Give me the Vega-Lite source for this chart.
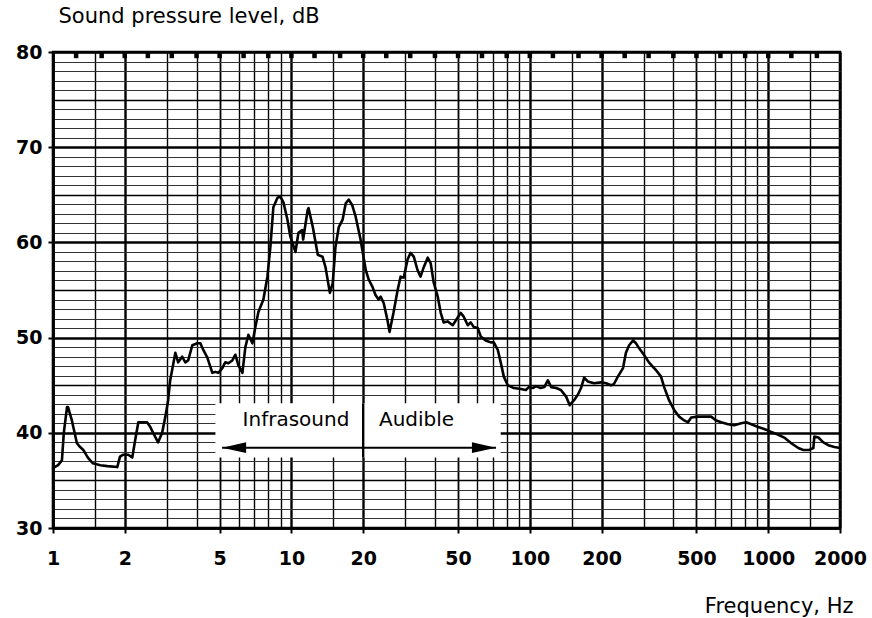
{
  "$schema": "https://vega.github.io/schema/vega-lite/v6.json",
  "width": 787,
  "height": 476,
  "autosize": "none",
  "padding": {"left": 53, "top": 52, "right": 32, "bottom": 90},
  "background": "white",
  "config": {
    "view": {"stroke": "black", "strokeWidth": 2.6},
    "font": "DejaVu Sans"
  },
  "datasets": {
    "spl": [
      {"f": 1.0, "dB": 36.3}, {"f": 1.05, "dB": 36.6}, {"f": 1.09, "dB": 37.1}, {"f": 1.11, "dB": 40.0},
      {"f": 1.145, "dB": 42.7}, {"f": 1.156, "dB": 42.7}, {"f": 1.2, "dB": 41.3}, {"f": 1.26, "dB": 38.9},
      {"f": 1.3, "dB": 38.5}, {"f": 1.34, "dB": 38.2}, {"f": 1.4, "dB": 37.4}, {"f": 1.47, "dB": 36.8},
      {"f": 1.58, "dB": 36.6}, {"f": 1.69, "dB": 36.5}, {"f": 1.86, "dB": 36.4}, {"f": 1.91, "dB": 37.5},
      {"f": 1.97, "dB": 37.7}, {"f": 2.07, "dB": 37.7}, {"f": 2.15, "dB": 37.4}, {"f": 2.21, "dB": 39.2},
      {"f": 2.28, "dB": 41.1}, {"f": 2.37, "dB": 41.1}, {"f": 2.48, "dB": 41.1}, {"f": 2.56, "dB": 40.6},
      {"f": 2.63, "dB": 40.0}, {"f": 2.76, "dB": 39.0}, {"f": 2.87, "dB": 40.0}, {"f": 2.96, "dB": 41.7},
      {"f": 3.04, "dB": 43.4}, {"f": 3.1, "dB": 45.5}, {"f": 3.16, "dB": 46.6}, {"f": 3.26, "dB": 48.4},
      {"f": 3.35, "dB": 47.4}, {"f": 3.48, "dB": 48.0}, {"f": 3.59, "dB": 47.4}, {"f": 3.69, "dB": 47.6},
      {"f": 3.84, "dB": 49.2}, {"f": 4.03, "dB": 49.4}, {"f": 4.15, "dB": 49.4}, {"f": 4.27, "dB": 48.7},
      {"f": 4.44, "dB": 47.9}, {"f": 4.66, "dB": 46.3}, {"f": 4.79, "dB": 46.4}, {"f": 4.94, "dB": 46.3},
      {"f": 5.13, "dB": 46.8}, {"f": 5.28, "dB": 47.4}, {"f": 5.44, "dB": 47.3}, {"f": 5.65, "dB": 47.6},
      {"f": 5.82, "dB": 48.2}, {"f": 5.99, "dB": 47.1}, {"f": 6.23, "dB": 46.3}, {"f": 6.41, "dB": 49.0},
      {"f": 6.6, "dB": 50.3}, {"f": 6.86, "dB": 49.4}, {"f": 7.06, "dB": 51.1}, {"f": 7.27, "dB": 52.7},
      {"f": 7.63, "dB": 54.0}, {"f": 7.93, "dB": 56.4}, {"f": 8.16, "dB": 59.5}, {"f": 8.4, "dB": 63.7},
      {"f": 8.74, "dB": 64.7}, {"f": 8.99, "dB": 64.8}, {"f": 9.26, "dB": 64.2}, {"f": 9.62, "dB": 62.4},
      {"f": 9.9, "dB": 60.6}, {"f": 10.4, "dB": 59.0}, {"f": 10.7, "dB": 61.0}, {"f": 11.1, "dB": 61.3},
      {"f": 11.2, "dB": 60.3}, {"f": 11.7, "dB": 63.4}, {"f": 11.8, "dB": 63.6}, {"f": 12.3, "dB": 61.6},
      {"f": 12.9, "dB": 58.7}, {"f": 13.5, "dB": 58.5}, {"f": 13.9, "dB": 57.4}, {"f": 14.5, "dB": 54.7},
      {"f": 14.9, "dB": 55.7}, {"f": 15.3, "dB": 59.5}, {"f": 15.8, "dB": 61.6}, {"f": 16.4, "dB": 62.4},
      {"f": 16.9, "dB": 64.1}, {"f": 17.4, "dB": 64.5}, {"f": 18.0, "dB": 63.9}, {"f": 18.6, "dB": 62.7},
      {"f": 19.5, "dB": 60.3}, {"f": 20.5, "dB": 57.1}, {"f": 21.1, "dB": 56.1}, {"f": 21.9, "dB": 55.3},
      {"f": 22.5, "dB": 54.5}, {"f": 23.2, "dB": 54.0}, {"f": 23.7, "dB": 54.3}, {"f": 24.4, "dB": 53.6},
      {"f": 25.3, "dB": 51.8}, {"f": 25.8, "dB": 50.6}, {"f": 26.8, "dB": 52.6}, {"f": 27.9, "dB": 55.0},
      {"f": 28.7, "dB": 56.4}, {"f": 29.6, "dB": 56.3}, {"f": 30.7, "dB": 58.2}, {"f": 31.6, "dB": 58.9},
      {"f": 32.6, "dB": 58.5}, {"f": 33.8, "dB": 57.1}, {"f": 34.8, "dB": 56.4}, {"f": 35.9, "dB": 57.4},
      {"f": 37.3, "dB": 58.4}, {"f": 38.4, "dB": 57.8}, {"f": 39.5, "dB": 55.8}, {"f": 41.1, "dB": 54.3},
      {"f": 42.3, "dB": 52.6}, {"f": 43.5, "dB": 51.6}, {"f": 45.2, "dB": 51.7}, {"f": 47.5, "dB": 51.3},
      {"f": 48.9, "dB": 51.8}, {"f": 51.3, "dB": 52.6}, {"f": 52.8, "dB": 52.2}, {"f": 54.9, "dB": 51.3},
      {"f": 56.5, "dB": 51.6}, {"f": 58.2, "dB": 51.1}, {"f": 60.5, "dB": 51.0}, {"f": 62.3, "dB": 50.1},
      {"f": 65.3, "dB": 49.7}, {"f": 68.6, "dB": 49.5}, {"f": 70.6, "dB": 49.5}, {"f": 73.4, "dB": 48.7},
      {"f": 75.5, "dB": 47.4}, {"f": 77.8, "dB": 45.9}, {"f": 80.8, "dB": 45.0}, {"f": 85.7, "dB": 44.7},
      {"f": 91.7, "dB": 44.6}, {"f": 96.2, "dB": 44.5}, {"f": 99.0, "dB": 44.8}, {"f": 103, "dB": 44.7},
      {"f": 106, "dB": 44.9}, {"f": 111, "dB": 44.7}, {"f": 115, "dB": 44.8}, {"f": 119, "dB": 45.5},
      {"f": 123, "dB": 44.8}, {"f": 129, "dB": 44.7}, {"f": 135, "dB": 44.5}, {"f": 142, "dB": 43.8},
      {"f": 147, "dB": 42.9}, {"f": 153, "dB": 43.4}, {"f": 159, "dB": 44.0}, {"f": 164, "dB": 44.7},
      {"f": 169, "dB": 45.8}, {"f": 175, "dB": 45.4}, {"f": 186, "dB": 45.2}, {"f": 199, "dB": 45.3},
      {"f": 209, "dB": 45.2}, {"f": 219, "dB": 45.0}, {"f": 225, "dB": 45.1}, {"f": 234, "dB": 45.9},
      {"f": 246, "dB": 46.8}, {"f": 253, "dB": 48.4}, {"f": 261, "dB": 49.2}, {"f": 271, "dB": 49.7},
      {"f": 279, "dB": 49.4}, {"f": 287, "dB": 48.9}, {"f": 301, "dB": 48.2}, {"f": 316, "dB": 47.4},
      {"f": 329, "dB": 46.9}, {"f": 338, "dB": 46.6}, {"f": 355, "dB": 45.9}, {"f": 366, "dB": 44.8},
      {"f": 384, "dB": 43.4}, {"f": 403, "dB": 42.4}, {"f": 423, "dB": 41.7}, {"f": 444, "dB": 41.3},
      {"f": 461, "dB": 41.1}, {"f": 475, "dB": 41.6}, {"f": 508, "dB": 41.7}, {"f": 538, "dB": 41.7},
      {"f": 576, "dB": 41.7}, {"f": 605, "dB": 41.3}, {"f": 635, "dB": 41.1}, {"f": 679, "dB": 40.9},
      {"f": 720, "dB": 40.8}, {"f": 770, "dB": 41.0}, {"f": 808, "dB": 41.1}, {"f": 849, "dB": 40.9},
      {"f": 908, "dB": 40.6}, {"f": 962, "dB": 40.4}, {"f": 1029, "dB": 40.1}, {"f": 1102, "dB": 39.8},
      {"f": 1167, "dB": 39.5}, {"f": 1249, "dB": 38.9}, {"f": 1337, "dB": 38.4}, {"f": 1403, "dB": 38.2},
      {"f": 1487, "dB": 38.2}, {"f": 1546, "dB": 38.4}, {"f": 1561, "dB": 39.6}, {"f": 1623, "dB": 39.5},
      {"f": 1703, "dB": 39.0}, {"f": 1787, "dB": 38.7}, {"f": 1894, "dB": 38.5}, {"f": 2000, "dB": 38.4}
    ],
    "thirdOctave": [
      {"f": 1.25}, {"f": 1.6}, {"f": 2}, {"f": 2.5}, {"f": 3.15}, {"f": 4}, {"f": 5}, {"f": 6.3},
      {"f": 8}, {"f": 10}, {"f": 12.5}, {"f": 16}, {"f": 20}, {"f": 25}, {"f": 31.5}, {"f": 40},
      {"f": 50}, {"f": 63}, {"f": 80}, {"f": 100}, {"f": 125}, {"f": 160}, {"f": 200}, {"f": 250},
      {"f": 315}, {"f": 400}, {"f": 500}, {"f": 630}, {"f": 800}, {"f": 1000}, {"f": 1250}, {"f": 1600}
    ],
    "box": [{"f1": 4.8, "f2": 75.5, "lo": 37.4, "hi": 43.1, "fmid": 20}],
    "arrow": [{"f1": 5.12, "f2": 72.1, "dB": 38.44}],
    "heads": [{"f": 5.12, "dB": 38.44, "dir": "left"}, {"f": 72.1, "dB": 38.44, "dir": "right"}],
    "labels": [{"label": "Infrasound", "f": 10.45, "dB": 41.3}, {"label": "Audible", "f": 33.5, "dB": 41.3}]
  },
  "layer": [
    {
      "data": {"name": "box"},
      "mark": {"type": "rect", "fill": "white"},
      "encoding": {
        "x": {
          "field": "f1", "type": "quantitative",
          "scale": {"type": "log", "domain": [1, 2000], "nice": false},
          "axis": {
            "values": [1, 1.5, 2, 3, 4, 5, 6, 7, 8, 9, 10, 15, 20, 30, 40, 50, 60, 70, 80, 90, 100, 150, 200, 300, 400, 500, 600, 700, 800, 900, 1000, 1500, 2000],
            "tickCount": 500,
            "labelExpr": "indexof([1,2,5,10,20,50,100,200,500,1000,2000], datum.value) >= 0 ? '' + datum.value : ''",
            "labelFont": "DejaVu Sans", "labelFontSize": 19, "labelFontWeight": "bold", "labelColor": "black",
            "labelPadding": 16, "labelOverlap": false, "labelFlush": false, "labelBound": false,
            "tickSize": 5, "tickWidth": 2, "tickColor": "black",
            "tickOpacity": {"condition": {"test": "indexof([1,2,5,10,20,50,100,200,500,1000,2000], datum.value) >= 0", "value": 1}, "value": 0},
            "domain": true, "domainColor": "black", "domainWidth": 2.6,
            "grid": true, "gridColor": "black", "gridOpacity": 1,
            "gridWidth": {"condition": [
              {"test": "indexof([1,2,10,20,100,200,1000,2000], datum.value) >= 0", "value": 2.4},
              {"test": "indexof([5,50,500], datum.value) >= 0", "value": 1.8}
            ], "value": 1.4},
            "title": "Frequency, Hz",
            "titleFont": "DejaVu Sans", "titleFontSize": 21, "titleFontWeight": "normal", "titleColor": "black",
            "titleAlign": "right", "titleBaseline": "alphabetic", "titleX": 800, "titleY": 84
          }
        },
        "x2": {"field": "f2"},
        "y": {
          "field": "lo", "type": "quantitative",
          "scale": {"domain": [30, 80], "nice": false, "zero": false},
          "axis": {
            "values": [30, 31, 32, 33, 34, 35, 36, 37, 38, 39, 40, 41, 42, 43, 44, 45, 46, 47, 48, 49, 50, 51, 52, 53, 54, 55, 56, 57, 58, 59, 60, 61, 62, 63, 64, 65, 66, 67, 68, 69, 70, 71, 72, 73, 74, 75, 76, 77, 78, 79, 80],
            "tickCount": 500,
            "labelExpr": "datum.value % 10 === 0 ? '' + datum.value : ''",
            "labelFont": "DejaVu Sans", "labelFontSize": 19, "labelFontWeight": "bold", "labelColor": "black",
            "labelPadding": 6, "labelOverlap": false, "labelFlush": false, "labelBound": false,
            "tickSize": 5, "tickWidth": 2, "tickColor": "black",
            "tickOpacity": {"condition": {"test": "datum.value % 10 === 0", "value": 1}, "value": 0},
            "domain": true, "domainColor": "black", "domainWidth": 2.6,
            "grid": true, "gridOpacity": 1,
            "gridColor": {"condition": {"test": "datum.value % 5 === 0", "value": "black"}, "value": "#333333"},
            "gridWidth": {"condition": [
              {"test": "datum.value % 10 === 0", "value": 2.3},
              {"test": "datum.value % 5 === 0", "value": 1.5}
            ], "value": 1},
            "title": "Sound pressure level, dB",
            "titleFont": "DejaVu Sans", "titleFontSize": 21, "titleFontWeight": "normal", "titleColor": "black",
            "titleAngle": 0, "titleAlign": "left", "titleBaseline": "alphabetic", "titleX": 5, "titleY": -30
          }
        },
        "y2": {"field": "hi"}
      }
    },
    {
      "data": {"name": "box"},
      "mark": {"type": "rule", "color": "black", "strokeWidth": 2.4},
      "encoding": {
        "x": {"field": "fmid", "type": "quantitative"},
        "y": {"field": "lo", "type": "quantitative"},
        "y2": {"field": "hi"}
      }
    },
    {
      "data": {"name": "arrow"},
      "mark": {"type": "rule", "color": "black", "strokeWidth": 2},
      "encoding": {
        "x": {"field": "f1", "type": "quantitative"},
        "x2": {"field": "f2"},
        "y": {"field": "dB", "type": "quantitative"}
      }
    },
    {
      "data": {"name": "heads"},
      "mark": {"type": "point", "filled": true, "color": "black", "size": 576, "opacity": 1},
      "encoding": {
        "x": {"field": "f", "type": "quantitative"},
        "y": {"field": "dB", "type": "quantitative"},
        "shape": {"field": "dir", "type": "nominal", "legend": null,
          "scale": {"domain": ["left", "right"], "range": ["M0,0L2,-0.45L2,0.45Z", "M0,0L-2,-0.45L-2,0.45Z"]}}
      }
    },
    {
      "data": {"name": "labels"},
      "mark": {"type": "text", "font": "DejaVu Sans", "fontSize": 20, "color": "black", "align": "center", "baseline": "middle"},
      "encoding": {
        "x": {"field": "f", "type": "quantitative"},
        "y": {"field": "dB", "type": "quantitative"},
        "text": {"field": "label"}
      }
    },
    {
      "data": {"name": "thirdOctave"},
      "mark": {"type": "rule", "color": "black", "strokeWidth": 4.5},
      "encoding": {
        "x": {"field": "f", "type": "quantitative"},
        "y": {"datum": 80, "type": "quantitative"},
        "y2": {"datum": 79.35}
      }
    },
    {
      "data": {"name": "spl"},
      "mark": {"type": "line", "color": "black", "strokeWidth": 2.6, "strokeJoin": "round", "strokeCap": "round"},
      "encoding": {
        "x": {"field": "f", "type": "quantitative"},
        "y": {"field": "dB", "type": "quantitative"}
      }
    }
  ]
}
